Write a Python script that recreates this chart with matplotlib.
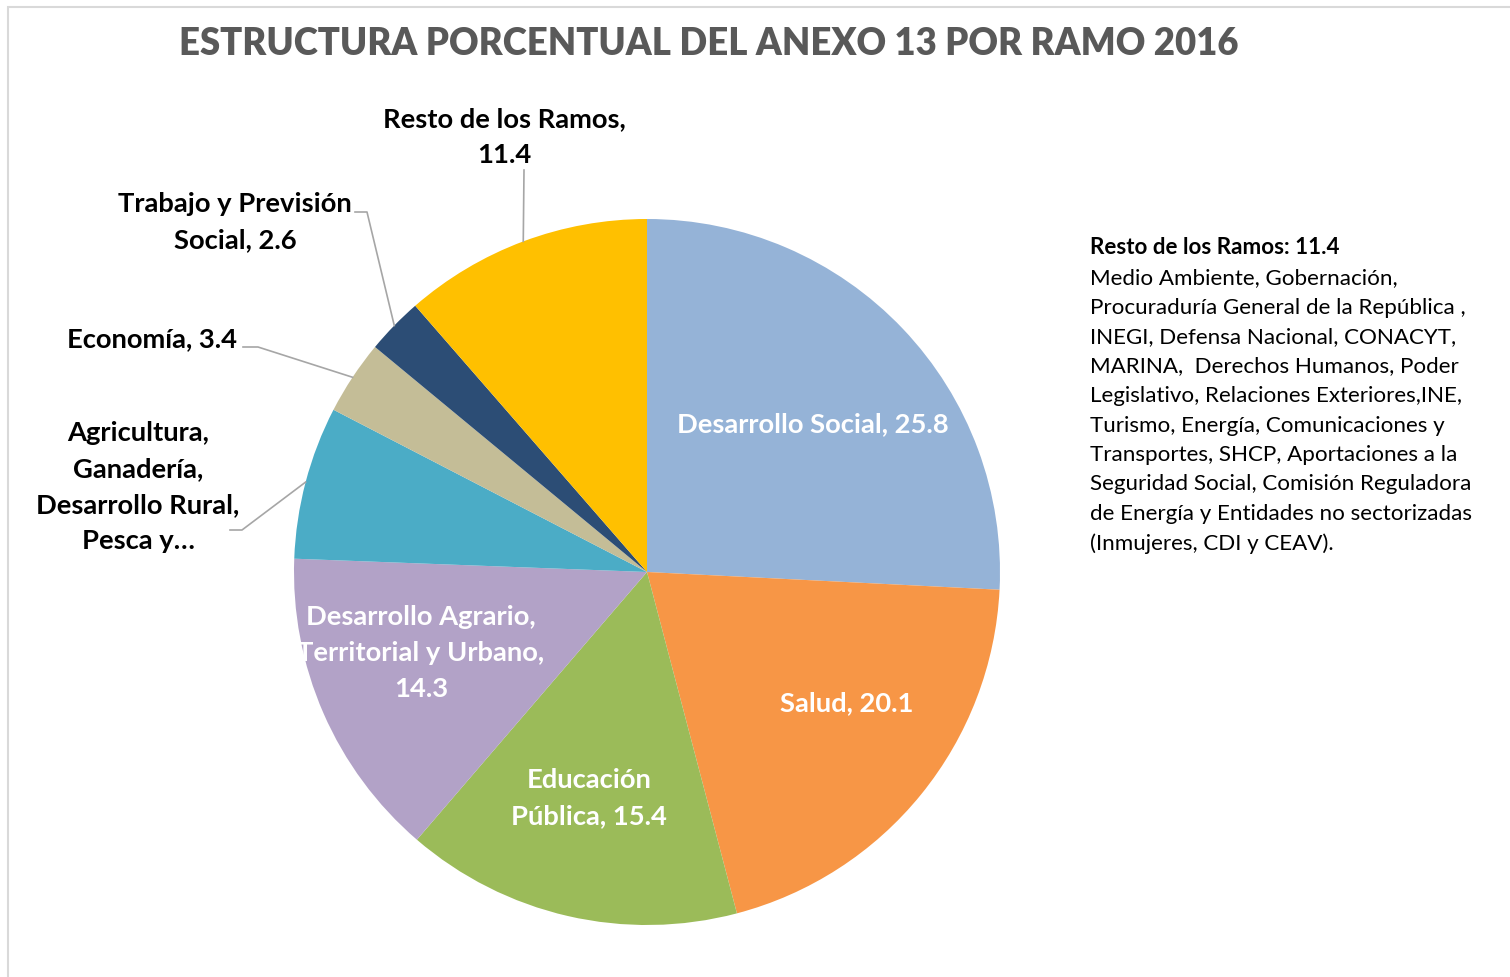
import matplotlib
matplotlib.use("Agg")
import matplotlib.pyplot as plt
from matplotlib.patches import Rectangle
import numpy as np

# ---- data ----
categories = ["Desarrollo Social", "Salud", "Educación Pública",
              "Desarrollo Agrario, Territorial y Urbano",
              "Agricultura, Ganadería, Desarrollo Rural, Pesca y…",
              "Economía", "Trabajo y Previsión Social", "Resto de los Ramos"]
values = [25.8, 20.1, 15.4, 14.3, 7.0, 3.4, 2.6, 11.4]
colors = ["#95B3D7", "#F79646", "#9BBB59", "#B2A2C7", "#4BACC6",
          "#C4BD97", "#2C4D75", "#FFC000"]
label_texts = ["Desarrollo Social, 25.8", "Salud, 20.1",
               "Educación\nPública, 15.4",
               "Desarrollo Agrario,\nTerritorial y Urbano,\n14.3",
               "Agricultura,\nGanadería,\nDesarrollo Rural,\nPesca y…",
               "Economía, 3.4", "Trabajo y Previsión\nSocial, 2.6",
               "Resto de los Ramos,\n11.4"]
title = "ESTRUCTURA PORCENTUAL DEL ANEXO 13 POR RAMO 2016"
note_title = "Resto de los Ramos: 11.4"
note_lines = ["Medio Ambiente, Gobernación,",
              "Procuraduría General de la República ,",
              "INEGI, Defensa Nacional, CONACYT,",
              "MARINA,  Derechos Humanos, Poder",
              "Legislativo, Relaciones Exteriores,INE,",
              "Turismo, Energía, Comunicaciones y",
              "Transportes, SHCP, Aportaciones a la",
              "Seguridad Social, Comisión Reguladora",
              "de Energía y Entidades no sectorizadas",
              "(Inmujeres, CDI y CEAV)."]

# ---- layout ----
W, H = 1510, 977
FONT = ['Lato', 'DejaVu Sans']
fig = plt.figure(figsize=(W / 100, H / 100), dpi=100)
ax = fig.add_axes([0, 0, 1, 1])

def Y(py):
    return H - py

cx, cy, R = 647, 572, 353
wedges, _ = ax.pie(values, colors=colors, startangle=90, counterclock=False,
                   center=(cx, Y(cy)), radius=R, frame=True,
                   wedgeprops=dict(linewidth=0))
ax.set_xlim(0, W)
ax.set_ylim(0, H)
ax.set_aspect('equal')
ax.axis('off')

# border
fig.patches.append(Rectangle((8, -10), W, H - 7 + 10, transform=None,
                             fill=False, edgecolor="#D9D9D9", linewidth=1.5))

ax.text(709, Y(44), title, ha='center', va='center', fontsize=26.3,
        fontweight='heavy', color="#595959", family=FONT)

# label positions (pixel coords) and styles
label_pos = [(813, 424), (847, 703), (589, 798), (421, 653), (138, 487),
             (152, 339), (235, 222), (504, 137)]
label_col = ["white"] * 4 + ["black"] * 4
for t, (x, y), c in zip(label_texts, label_pos, label_col):
    ax.text(x, Y(y), t, ha='center', va='center', fontsize=19.7,
            fontweight='bold', color=c, family=FONT, linespacing=1.59)

# leader lines: from label anchor to wedge mid-angle on the edge
cum = np.cumsum([0] + values)
total = cum[-1]
def edge_pt(i):
    mid = (cum[i] + cum[i + 1]) / 2 / total * 2 * np.pi
    return cx + R * np.sin(mid), cy - R * np.cos(mid)

leaders = {7: [(524, 170)], 6: [(355, 212), (367, 212)],
           5: [(243, 347), (258, 347)], 4: [(230, 530), (242, 530)]}
for i, pts in leaders.items():
    ex, ey = edge_pt(i)
    xs = [p[0] for p in pts] + [ex]
    ys = [Y(p[1]) for p in pts] + [Y(ey)]
    ax.plot(xs, ys, color="#A6A6A6", linewidth=1.2)

# note text
ax.text(1090, Y(248), note_title, ha='left', va='center', fontsize=16.1,
        fontweight='bold', color="black", family=FONT)
for k, line in enumerate(note_lines):
    ax.text(1090, Y(278 + k * 29.5), line, ha='left', va='center',
            fontsize=16.1, color="black", family=FONT)

fig.savefig("out.png", dpi=100)
